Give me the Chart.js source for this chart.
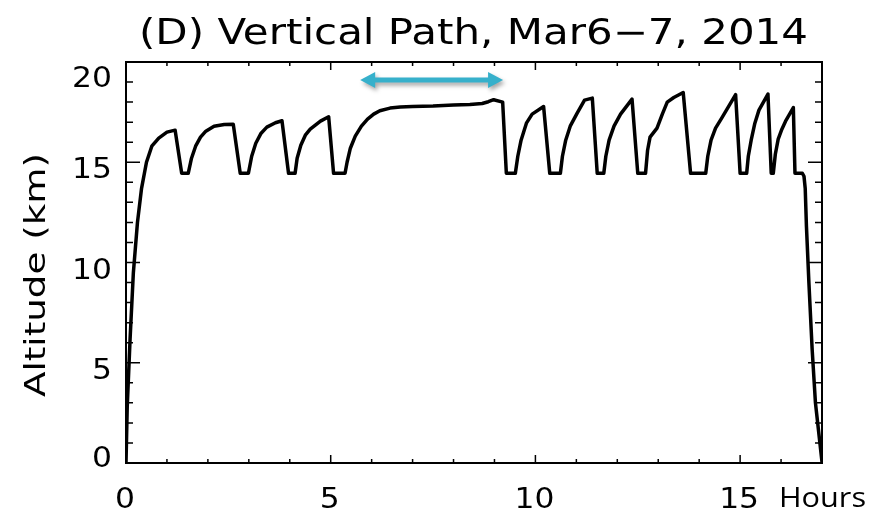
<!DOCTYPE html>
<html>
<head>
<meta charset="utf-8">
<script src="https://cdn.jsdelivr.net/npm/chart.js@4.4.1/dist/chart.umd.min.js"></script>
<style>
  html, body { margin: 0; background: #fff; }
  #wrap { width: 869px; height: 515px; }
</style>
</head>
<body>
<div id="wrap"><canvas id="flight"></canvas></div>
<script>
// flight time (hours) vs altitude (km)
const hours = [
  0, 0.03, 0.1, 0.18, 0.28, 0.38, 0.5, 0.63, 0.8, 1.0, 1.2,
  1.36, 1.52, 1.6, 1.7, 1.82, 1.95, 2.15, 2.4, 2.62,
  2.79, 2.99, 3.07, 3.17, 3.3, 3.44, 3.65, 3.81,
  3.97, 4.13, 4.18, 4.27, 4.38, 4.5, 4.75, 4.95,
  5.07, 5.35, 5.4, 5.48, 5.6, 5.75, 5.9, 6.05, 6.2, 6.45, 6.7, 7.0, 7.5, 8.0, 8.4, 8.7, 8.85, 8.98, 9.2,
  9.29, 9.51, 9.57, 9.65, 9.78, 9.92, 10.2,
  10.35, 10.61, 10.66, 10.74, 10.85, 11.02, 11.2, 11.39,
  11.51, 11.67, 11.72, 11.8, 11.92, 12.08, 12.36,
  12.5, 12.69, 12.74, 12.8, 12.97, 13.1, 13.22, 13.38, 13.61,
  13.79, 14.16, 14.21, 14.29, 14.4, 14.55, 14.89,
  15.0, 15.16, 15.2, 15.27, 15.36, 15.46, 15.68,
  15.76, 15.81, 15.86, 15.93, 16.02, 16.11, 16.3,
  16.34, 16.52, 16.56, 16.59, 16.62, 16.68, 16.76, 16.84, 17.0
];
const altitudeKm = [
  0, 2.8, 6.2, 9.5, 12.0, 13.7, 15.0, 15.8, 16.2, 16.5, 16.6,
  14.45, 14.45, 15.2, 15.8, 16.25, 16.55, 16.8, 16.88, 16.9,
  14.45, 14.45, 15.3, 15.95, 16.45, 16.75, 16.97, 17.07,
  14.45, 14.45, 15.2, 15.85, 16.35, 16.65, 17.05, 17.27,
  14.45, 14.45, 15.0, 15.7, 16.3, 16.8, 17.15, 17.4, 17.57, 17.7, 17.75, 17.78, 17.8, 17.85, 17.88, 17.93, 18.02, 18.12, 18.0,
  14.45, 14.45, 15.3, 16.1, 16.95, 17.4, 17.78,
  14.45, 14.45, 15.3, 16.1, 16.8, 17.45, 18.1, 18.2,
  14.45, 14.45, 15.3, 16.1, 16.8, 17.4, 18.15,
  14.45, 14.45, 15.6, 16.25, 16.7, 17.4, 18.0, 18.23, 18.48,
  14.45, 14.45, 15.3, 16.1, 16.7, 17.2, 18.37,
  14.45, 14.45, 15.3, 16.1, 16.95, 17.6, 18.4,
  14.45, 14.45, 15.4, 16.15, 16.65, 17.05, 17.73,
  14.45, 14.45, 14.3, 13.7, 11.8, 9.0, 5.65, 3.0, 0.05
];
const xRange = [0, 17];
const yRange = [0, 20];
const xTickLabels = [0, 5, 10, 15];
const yTickLabels = [0, 5, 10, 15, 20];
const arrowHours = [5.72, 9.21];
const arrowKm = 19.1;

const titleText = '(D) Vertical Path, Mar6\u22127, 2014';
const yTitleText = 'Altitude (km)';
const xUnitText = 'Hours';

// draw text stretched to a given width (the figure is wide-set)
function fitText(ctx, text, left, baseline, font, width) {
  ctx.save();
  ctx.font = font;
  ctx.textAlign = 'left';
  ctx.textBaseline = 'alphabetic';
  const sx = width / ctx.measureText(text).width;
  ctx.translate(left, baseline);
  ctx.scale(sx, 1);
  ctx.fillStyle = '#000';
  ctx.fillText(text, 0, 0);
  ctx.restore();
}

function stretchText(ctx, text, x, baseline, font, sx, align) {
  ctx.save();
  ctx.font = font;
  ctx.textAlign = 'left';
  ctx.textBaseline = 'alphabetic';
  const w = ctx.measureText(text).width * sx;
  const left = align === 'center' ? x - w / 2 : (align === 'right' ? x - w : x);
  ctx.translate(left, baseline);
  ctx.scale(sx, 1);
  ctx.fillStyle = '#000';
  ctx.fillText(text, 0, 0);
  ctx.restore();
}

const framePlugin = {
  id: 'frame',
  afterDatasetsDraw(chart) {
    const { ctx, chartArea: a, scales: { x, y } } = chart;

    // cyan double arrow over the level flight
    const x1 = x.getPixelForValue(arrowHours[0]);
    const x2 = x.getPixelForValue(arrowHours[1]);
    const ay = y.getPixelForValue(arrowKm);
    const head = 15, half = 8, shaft = 2.5;
    ctx.save();
    ctx.shadowColor = 'rgba(0,0,0,0.35)';
    ctx.shadowBlur = 4;
    ctx.shadowOffsetX = 2;
    ctx.shadowOffsetY = 3;
    ctx.fillStyle = '#36b0cb';
    ctx.beginPath();
    ctx.moveTo(x1, ay);
    ctx.lineTo(x1 + head, ay - half);
    ctx.lineTo(x1 + head, ay - shaft);
    ctx.lineTo(x2 - head, ay - shaft);
    ctx.lineTo(x2 - head, ay - half);
    ctx.lineTo(x2, ay);
    ctx.lineTo(x2 - head, ay + half);
    ctx.lineTo(x2 - head, ay + shaft);
    ctx.lineTo(x1 + head, ay + shaft);
    ctx.lineTo(x1 + head, ay + half);
    ctx.closePath();
    ctx.fill();
    ctx.restore();

    // box and inward ticks on all four sides
    ctx.save();
    ctx.strokeStyle = '#000';
    ctx.lineWidth = 2;
    ctx.strokeRect(a.left, a.top, a.right - a.left, a.bottom - a.top);
    ctx.lineWidth = 1.5;
    ctx.beginPath();
    for (let v = xRange[0]; v <= xRange[1]; v++) {
      const px = x.getPixelForValue(v);
      const len = v % 5 === 0 ? 8 : 4;
      ctx.moveTo(px, a.bottom); ctx.lineTo(px, a.bottom - len);
      ctx.moveTo(px, a.top); ctx.lineTo(px, a.top + len);
    }
    for (let v = yRange[0]; v <= yRange[1]; v++) {
      const py = y.getPixelForValue(v);
      const len = v % 5 === 0 ? 14 : 7;
      ctx.moveTo(a.left, py); ctx.lineTo(a.left + len, py);
      ctx.moveTo(a.right, py); ctx.lineTo(a.right - len, py);
    }
    ctx.stroke();
    ctx.restore();
  },
  afterDraw(chart) {
    const { ctx, chartArea: a, scales: { x, y } } = chart;
    const tickFont = '28px "DejaVu Sans"';

    yTickLabels.forEach(v => {
      const mid = Math.min(Math.max(y.getPixelForValue(v) + 6, a.top + 15), a.bottom - 6);
      stretchText(ctx, String(v), 112, mid + 10, tickFont, 1.12, 'right');
    });
    xTickLabels.forEach(v => {
      stretchText(ctx, String(v), x.getPixelForValue(v) - 1, 508, tickFont, 1.12, 'center');
    });

    fitText(ctx, xUnitText, 779, 507, '28px "Open Sans"', 87);
    fitText(ctx, titleText, 139, 43.5, '35px "DejaVu Sans"', 669);

    ctx.save();
    ctx.translate(45, 397);
    ctx.rotate(-Math.PI / 2);
    fitText(ctx, yTitleText, 0, 0, '28px "DejaVu Sans"', 244);
    ctx.restore();
  }
};

new Chart(document.getElementById('flight'), {
  type: 'line',
  data: {
    datasets: [{
      data: hours.map((h, i) => ({ x: h, y: altitudeKm[i] })),
      borderColor: '#000',
      borderWidth: 3.5,
      pointRadius: 0,
      tension: 0,
      borderJoinStyle: 'round',
      fill: false
    }]
  },
  options: {
    responsive: true,
    maintainAspectRatio: false,
    animation: false,
    layout: { padding: { top: 62, right: 47, left: 0, bottom: 0 } },
    plugins: {
      legend: { display: false },
      tooltip: { enabled: false },
      title: { display: false }
    },
    scales: {
      x: {
        type: 'linear', min: xRange[0], max: xRange[1],
        grid: { display: false, drawTicks: false },
        border: { display: false },
        ticks: { display: false },
        afterFit: s => { s.height = 52; }
      },
      y: {
        type: 'linear', min: yRange[0], max: yRange[1],
        grid: { display: false, drawTicks: false },
        border: { display: false },
        ticks: { display: false },
        afterFit: s => { s.width = 126; }
      }
    }
  },
  plugins: [framePlugin]
});
</script>
</body>
</html>
